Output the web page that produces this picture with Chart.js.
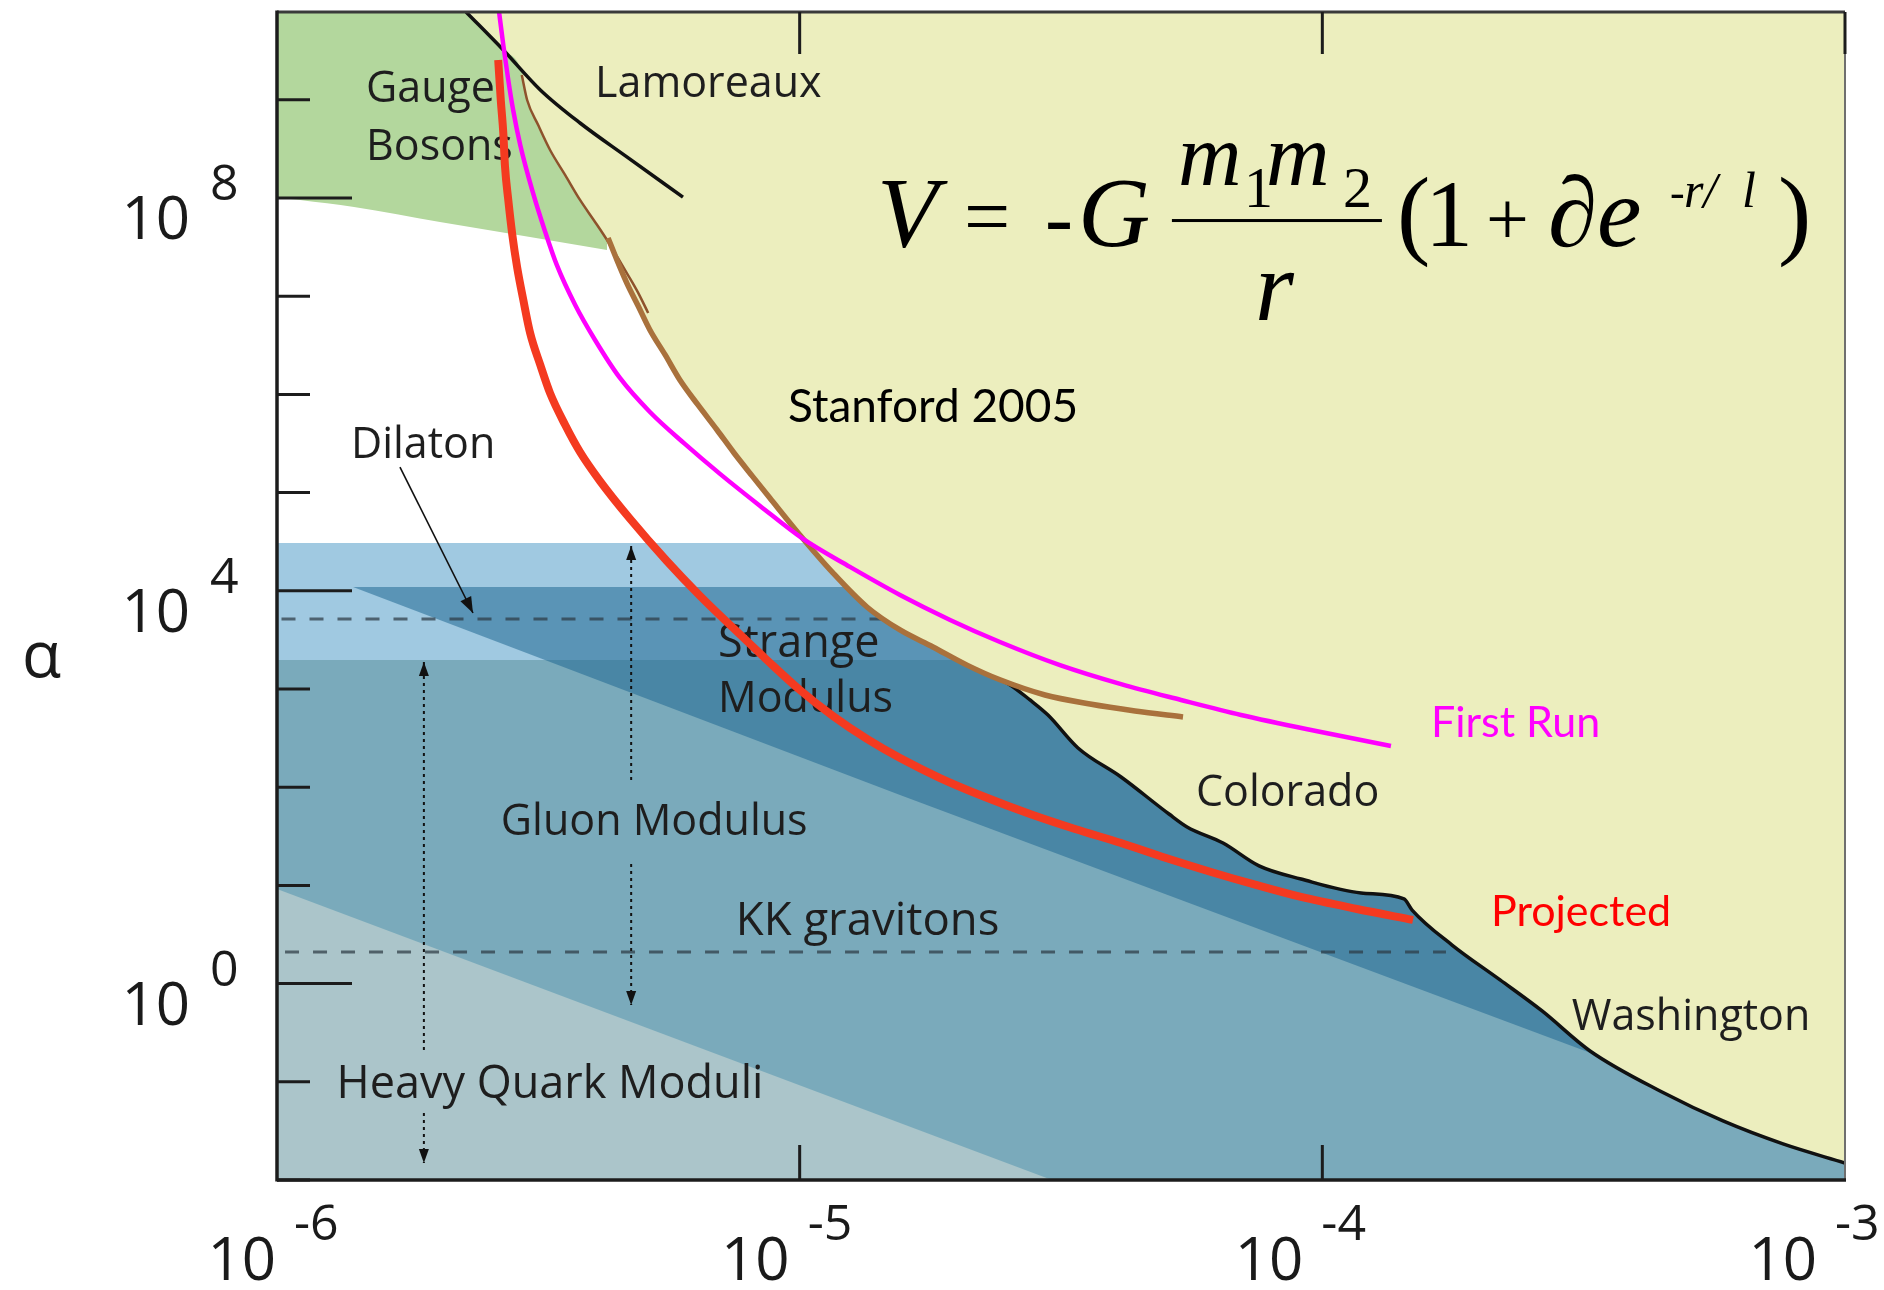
<!DOCTYPE html>
<html>
<head>
<meta charset="utf-8">
<title>Yukawa correction to gravity: α versus λ</title>
<script src="https://cdn.jsdelivr.net/npm/chart.js@4.4.1/dist/chart.umd.min.js"></script>
<style>
  html, body { margin: 0; padding: 0; background: #fff; }
  canvas { display: block; }
</style>
</head>
<body>
<canvas id="plot" width="1884" height="1290"></canvas>
<script>
// ---- axes -------------------------------------------------------------
const rangeTicks = [1e-6, 1e-5, 1e-4, 1e-3];           // λ (m)
const rangeTickExps = ['-6', '-5', '-4', '-3'];
const alphaTicks = [1e-2, 1e-1, 1e0, 1e1, 1e2, 1e3, 1e4, 1e5, 1e6, 1e7, 1e8, 1e9];
const alphaLabelTicks = [1e0, 1e4, 1e8];
const alphaLabelExps = ['0', '4', '8'];

// ---- experimental limits ----------------------------------------------
const lamoreauxR = [2.30e-6, 2.71e-6, 3.19e-6, 3.80e-6, 4.67e-6, 5.98e-6];
const lamoreauxA = [7.83e9, 3.21e9, 1.26e9, 5.80e8, 2.62e8, 1.02e8];

const stanfordThinR = [2.94e-6, 3.01e-6, 3.16e-6, 3.33e-6, 3.56e-6, 3.80e-6, 4.06e-6, 4.28e-6, 4.49e-6, 4.67e-6, 4.91e-6, 5.13e-6];
const stanfordThinA = [1.79e9, 9.95e8, 5.53e8, 3.08e8, 1.71e8, 9.55e7, 5.70e7, 3.73e7, 2.45e7, 1.72e7, 1.08e7, 6.75e6];

const stanfordR = [4.30e-6, 4.47e-6, 4.67e-6, 4.91e-6, 5.17e-6, 5.53e-6, 5.90e-6, 6.39e-6, 6.95e-6, 7.49e-6, 8.11e-6, 8.77e-6,
                   1.001e-5, 1.158e-5, 1.345e-5, 1.556e-5, 1.799e-5, 2.090e-5, 2.417e-5, 2.947e-5, 3.593e-5, 4.382e-5, 5.413e-5];
const stanfordA = [3.92e7, 2.34e7, 1.36e7, 7.94e6, 4.53e6, 2.52e6, 1.40e6, 7.80e5, 4.34e5, 2.53e5, 1.48e5, 8.81e4,
                   3.70e4, 1.52e4, 6.84e3, 3.99e3, 2.68e3, 1.75e3, 1.24e3, 869, 703, 597, 519];

// Colorado + Washington (Eöt-Wash) limit
const eotWashR = [2.417e-5, 2.515e-5, 2.759e-5, 2.986e-5, 3.408e-5, 4.120e-5, 5.089e-5, 5.510e-5, 6.457e-5, 7.567e-5, 9.104e-5,
                  1.186e-4, 1.433e-4, 1.485e-4, 1.771e-4, 2.188e-4, 2.633e-4, 3.252e-4, 4.466e-4, 5.843e-4, 7.610e-4, 1e-3];
const eotWashA = [1.24e3, 1.12e3, 773, 543, 251, 127, 53.3, 39.4, 27.0, 15.8, 11.6,
                  8.37, 7.28, 5.61, 2.47, 1.09, 0.526, 0.206, 0.0787, 0.0399, 0.0233, 0.0149];

// upper edge of the allowed region left of the Colorado data
const excludedEdgeR = [2.30e-6, 2.71e-6, 2.94e-6, 3.01e-6, 3.16e-6, 3.33e-6, 3.56e-6, 3.80e-6, 4.06e-6, 4.28e-6, 4.47e-6, 4.67e-6,
                       4.91e-6, 5.17e-6, 5.53e-6, 5.90e-6, 6.39e-6, 6.95e-6, 7.49e-6, 8.11e-6, 8.77e-6, 1.001e-5, 1.158e-5,
                       1.345e-5, 1.556e-5, 1.799e-5, 2.090e-5];
const excludedEdgeA = [7.83e9, 3.21e9, 1.92e9, 9.95e8, 5.53e8, 3.08e8, 1.71e8, 9.55e7, 5.70e7, 3.73e7, 2.34e7, 1.36e7,
                       7.94e6, 4.53e6, 2.52e6, 1.40e6, 7.80e5, 4.34e5, 2.53e5, 1.48e5, 8.81e4, 3.70e4, 1.52e4,
                       6.84e3, 3.99e3, 2.68e3, 1.75e3];

// ---- sensitivity curves -----------------------------------------------
const firstRunR = [2.66e-6, 2.71e-6, 2.77e-6, 2.83e-6, 2.92e-6, 3.09e-6, 3.26e-6, 3.43e-6, 3.72e-6, 4.06e-6, 4.53e-6, 5.17e-6, 6.03e-6,
                   7.04e-6, 8.40e-6, 1.015e-5, 1.248e-5, 1.556e-5, 1.940e-5, 2.417e-5, 3.148e-5, 4.120e-5, 5.365e-5, 6.989e-5, 9.725e-5, 1.353e-4];
const firstRunA = [7.83e9, 3.61e9, 1.59e9, 7.87e8, 3.47e8, 1.12e8, 4.51e7, 2.08e7, 8.13e6, 3.58e6, 1.47e6, 6.62e5, 3.13e5,
                   1.55e5, 7.31e4, 3.37e4, 1.75e4, 9.06e3, 5.05e3, 3.01e3, 1.75e3, 1.12e3, 773, 543, 373, 263];

const projectedR = [2.65e-6, 2.68e-6, 2.71e-6, 2.73e-6, 2.77e-6, 2.82e-6, 2.88e-6, 2.96e-6, 3.05e-6, 3.19e-6, 3.33e-6, 3.56e-6,
                    3.80e-6, 4.15e-6, 4.74e-6, 5.57e-6, 6.45e-6, 7.46e-6, 8.66e-6, 1.001e-5, 1.158e-5, 1.345e-5, 1.556e-5,
                    1.856e-5, 2.262e-5, 2.759e-5, 3.364e-5, 4.120e-5, 5.023e-5, 6.124e-5, 7.467e-5, 9.104e-5, 1.165e-4, 1.491e-4];
const projectedA = [2.54e9, 9.95e8, 4.59e8, 2.12e8, 9.55e7, 4.20e7, 1.98e7, 9.14e6, 4.22e6, 1.99e6, 1.03e6, 4.88e5,
                    2.59e5, 1.31e5, 5.38e4, 2.01e4, 8.85e3, 4.18e3, 1.97e3, 977, 531, 310, 198,
                    124, 79.4, 53.3, 37.5, 27.0, 19.0, 13.7, 10.1, 7.62, 5.75, 4.45];

// ---- theoretical predictions ------------------------------------------
const gaugeEdgeR = [1e-6, 1.107e-6, 1.404e-6, 2.050e-6, 3.048e-6, 4.279e-6];
const gaugeEdgeA = [1.02e8, 9.54e7, 8.09e7, 5.70e7, 4.01e7, 2.95e7];

const fullR = [1e-6, 1e-3];
const dilatonTopA = [3.07e4, 3.07e4];
const gluonTopA = [1.97e3, 1.97e3];

const strangeR = [1.398e-6, 1.556e-5, 3.339e-4, 1e-3];
const strangeTopA = [1.093e4, 1.093e4, 1.093e4, 1.093e4];
const strangeLowA = [1.093e4, 83.3, 0.1875, 0.0207];

const heavyQuarkR = [1e-6, 1.856e-5, 3.039e-5];
const heavyQuarkA = [9.19, 0.0268, 0.01];

const dilatonLineR = [1.02e-6, 1.488e-5];
const dilatonLineA = [5.16e3, 5.16e3];
const kkLineR = [1.036e-6, 1.724e-4];
const kkLineA = [2.10, 2.10];

// range markers (dotted, with a break for the label)
const gluonArrowR = [4.76e-6, 4.76e-6, 4.76e-6, 4.76e-6, 4.76e-6];
const gluonArrowA = [2.86e4, 116, null, 16.5, 0.605];
const heavyArrowR = [1.91e-6, 1.91e-6, 1.91e-6, 1.91e-6, 1.91e-6];
const heavyArrowA = [1.88e3, 0.206, null, 0.0481, 0.0149];
const dilatonPointerR = [1.719e-6, 2.371e-6];
const dilatonPointerA = [1.82e5, 5.94e3];

// ---- annotations -------------------------------------------------------
const sansFont = '"Open Sans", "Noto Sans", sans-serif';
const calibriFont = '"Lato", "Open Sans", sans-serif';
const notes = [
  { text: 'Gauge',              r: 1.48e-6,  a: 9.50e8 },
  { text: 'Bosons',             r: 1.48e-6,  a: 2.44e8 },
  { text: 'Lamoreaux',          r: 4.06e-6,  a: 1.07e9 },
  { text: 'Dilaton',            r: 1.385e-6, a: 2.25e5 },
  { text: 'Strange',            r: 6.98e-6,  a: 2.12e3, size: 45 },
  { text: 'Modulus',            r: 6.98e-6,  a: 583 },
  { text: 'Gluon Modulus',      r: 2.68e-6,  a: 32.6 },
  { text: 'KK gravitons',       r: 7.55e-6,  a: 3.13, size: 45.5 },
  { text: 'Heavy Quark Moduli', r: 1.30e-6,  a: 0.0684, size: 45 },
  { text: 'Colorado',           r: 5.73e-5,  a: 64.4 },
  { text: 'Washington',         r: 3.00e-4,  a: 0.337 },
  { text: 'Stanford 2005',      r: 9.50e-6,  a: 5.24e5, font: '46px ' + calibriFont, color: '#000' },
  { text: 'First Run',          r: 1.614e-4, a: 324,    font: '43px ' + calibriFont, color: '#ff00ff' },
  { text: 'Projected',          r: 2.102e-4, a: 3.86,   font: '43px ' + calibriFont, color: '#ff0000' }
];
const formulaAnchor = { r: 1.443e-5, a: 3.24e7 };

// ---- datasets -----------------------------------------------------------
const pts = (rs, as) => rs.map((r, i) => ({ x: r, y: as[i] }));
function series(label, rs, as, opts) {
  return Object.assign({
    label, data: pts(rs, as), pointRadius: 0, pointHoverRadius: 0,
    borderWidth: 0, borderColor: 'rgba(0,0,0,0)', fill: false, tension: 0
  }, opts);
}
const smooth = { cubicInterpolationMode: 'monotone' };

const datasets = [
  series('Dilaton band', fullR, dilatonTopA, { fill: 'start', backgroundColor: '#a0c9e1', order: 20 }),
  series('Gluon modulus', fullR, gluonTopA, { fill: 'start', backgroundColor: '#7aaabb', order: 19 }),
  series('Heavy quark moduli', heavyQuarkR, heavyQuarkA, { fill: 'start', backgroundColor: '#abc5ca', order: 18 }),
  series('Strange lower', strangeR, strangeLowA, { order: 17 }),
  series('Strange modulus', strangeR, strangeTopA, { fill: 3, backgroundColor: 'rgba(32,103,146,0.54)', order: 17 }),
  series('Gauge bosons', gaugeEdgeR, gaugeEdgeA, Object.assign({ fill: 'end', backgroundColor: '#b3d79d', order: 16 }, smooth)),
  series('Excluded', excludedEdgeR.concat(eotWashR), excludedEdgeA.concat(eotWashA),
         Object.assign({ fill: 'end', backgroundColor: '#eceebe', order: 15 }, smooth)),
  series('Dilaton line', dilatonLineR, dilatonLineA, { borderWidth: 3, borderColor: 'rgba(45,58,68,0.72)', borderDash: [14, 14], order: 14 }),
  series('KK line', kkLineR, kkLineA, { borderWidth: 3, borderColor: 'rgba(45,58,68,0.72)', borderDash: [14, 14], order: 14 }),
  series('Gluon range', gluonArrowR, gluonArrowA, { borderWidth: 2, borderColor: '#111', borderDash: [3, 4], order: 13 }),
  series('Heavy range', heavyArrowR, heavyArrowA, { borderWidth: 2, borderColor: '#111', borderDash: [3, 4], order: 13 }),
  series('Dilaton pointer', dilatonPointerR, dilatonPointerA, { borderWidth: 1.6, borderColor: '#111', order: 13 }),
  series('Lamoreaux', lamoreauxR, lamoreauxA, Object.assign({ borderWidth: 3.5, borderColor: '#111', order: 12 }, smooth)),
  series('Colorado/Washington', eotWashR, eotWashA, Object.assign({ borderWidth: 3.5, borderColor: '#111', order: 12 }, smooth)),
  series('Stanford thin', stanfordThinR, stanfordThinA, Object.assign({ borderWidth: 2.5, borderColor: '#8e522c', order: 11 }, smooth)),
  series('Stanford 2005', stanfordR, stanfordA, Object.assign({ borderWidth: 5.5, borderColor: '#a9713c', order: 10 }, smooth)),
  series('First Run', firstRunR, firstRunA, Object.assign({ borderWidth: 4.5, borderColor: '#ff00ff', order: 9 }, smooth)),
  series('Projected', projectedR, projectedA, Object.assign({ borderWidth: 8, borderColor: '#f43a20', order: 8 }, smooth))
];

// ---- drawing helpers ----------------------------------------------------
function txt(ctx, s, px, py, font, color, align) {
  ctx.font = font; ctx.fillStyle = color || '#1e1e1e';
  ctx.textAlign = align || 'left'; ctx.textBaseline = 'alphabetic';
  ctx.fillText(s, px, py);
}
function seg(ctx, x0, y0, x1, y1) { ctx.beginPath(); ctx.moveTo(x0, y0); ctx.lineTo(x1, y1); ctx.stroke(); }
function arrowHead(ctx, x0, y0, x1, y1, len, half) {
  const ang = Math.atan2(y1 - y0, x1 - x0);
  ctx.save(); ctx.translate(x1, y1); ctx.rotate(ang);
  ctx.beginPath(); ctx.moveTo(0, 0); ctx.lineTo(-len, -half); ctx.lineTo(-len, half); ctx.closePath(); ctx.fill();
  ctx.restore();
}

const decorations = {
  id: 'decorations',
  beforeDatasetDraw(chart, args) {
    if (chart.data.datasets[args.index].label !== 'Lamoreaux') return;
    const { ctx, scales: { x, y } } = chart;
    ctx.save();
    notes.forEach(n => txt(ctx, n.text, x.getPixelForValue(n.r), y.getPixelForValue(n.a),
                           n.font || (n.size || 43) + 'px ' + sansFont, n.color || '#1e1e1e'));
    ctx.restore();
  },
  afterDatasetsDraw(chart) {
    const { ctx, chartArea: ca, scales: { x, y } } = chart;
    ctx.save();

    // arrowheads on the range markers
    ctx.fillStyle = '#111';
    const px = v => x.getPixelForValue(v), py = v => y.getPixelForValue(v);
    arrowHead(ctx, px(gluonArrowR[1]), py(gluonArrowA[1]), px(gluonArrowR[0]), py(gluonArrowA[0]), 14, 5);
    arrowHead(ctx, px(gluonArrowR[3]), py(gluonArrowA[3]), px(gluonArrowR[4]), py(gluonArrowA[4]), 14, 5);
    arrowHead(ctx, px(heavyArrowR[1]), py(heavyArrowA[1]), px(heavyArrowR[0]), py(heavyArrowA[0]), 14, 5);
    arrowHead(ctx, px(heavyArrowR[3]), py(heavyArrowA[3]), px(heavyArrowR[4]), py(heavyArrowA[4]), 14, 5);
    arrowHead(ctx, px(dilatonPointerR[0]), py(dilatonPointerA[0]), px(dilatonPointerR[1]), py(dilatonPointerA[1]), 16, 6);

    // frame
    ctx.lineCap = 'butt';
    ctx.strokeStyle = '#3a3a3a'; ctx.lineWidth = 3; seg(ctx, ca.left, ca.top, ca.right, ca.top);
    ctx.strokeStyle = '#6f6f6f'; ctx.lineWidth = 2; seg(ctx, ca.right, ca.top, ca.right, ca.bottom);
    ctx.strokeStyle = '#1c1c1c'; ctx.lineWidth = 3.5;
    seg(ctx, ca.left, ca.top - 1.5, ca.left, ca.bottom + 1.5);
    seg(ctx, ca.left, ca.bottom, ca.right + 1, ca.bottom);

    // inward ticks
    ctx.lineWidth = 3;
    alphaTicks.forEach(v => {
      const yy = py(v);
      seg(ctx, ca.left, yy, ca.left + (alphaLabelTicks.includes(v) ? 75 : 33), yy);
    });
    rangeTicks.slice(1).forEach(v => seg(ctx, px(v), ca.top, px(v), ca.top + 42));
    rangeTicks.slice(1, 3).forEach(v => seg(ctx, px(v), ca.bottom, px(v), ca.bottom - 35));

    // tick labels
    const big = '60px ' + sansFont, sup = '50px ' + sansFont;
    alphaLabelTicks.forEach((v, i) => {
      const yy = py(v);
      txt(ctx, '10', ca.left - 87, yy + 41, big, '#1a1a1a', 'right');
      txt(ctx, alphaLabelExps[i], ca.left - 67, yy + 2, sup, '#1a1a1a', 'left');
    });
    rangeTicks.forEach((v, i) => {
      const xx = px(v) - 9 * i;
      txt(ctx, '10', xx - 1, ca.bottom + 100, big, '#1a1a1a', 'right');
      txt(ctx, rangeTickExps[i], xx + 17, ca.bottom + 60, sup, '#1a1a1a', 'left');
    });
    txt(ctx, 'α', 22, py(1e4) + 86, '64px ' + sansFont, '#1a1a1a', 'left');

    // V = -G m1 m2 / r (1 + α e^{-r/λ})
    const fx = px(formulaAnchor.r), fy = py(formulaAnchor.a);
    const serif = '"Liberation Serif", "Times New Roman", serif';
    const it = s => 'italic ' + s + 'px ' + serif, rm = s => s + 'px ' + serif;
    const parts = [
      ['V', -6, 0, it(100)], ['=', 81, -2, rm(82)], ['-', 162, 0, rm(84)], ['G', 195, 0, it(100)],
      ['m', 295, -61, it(88)], ['1', 361, -39, rm(58)], ['m', 383, -61, it(88)], ['2', 460, -39, rm(58)],
      ['r', 372, 74, it(100)],
      ['(', 514, 0, rm(100)], ['1', 542, 0, rm(96)], ['+', 603, -2, rm(76)],
      ['∂', 665, 0, it(100)], ['e', 714, 0, it(100)],
      ['-', 787, -39, rm(44)], ['r/', 801, -39, it(50)], ['l', 859, -39, it(50)],
      [')', 895, 0, rm(100)]
    ];
    parts.forEach(p => txt(ctx, p[0], fx + p[1], fy + p[2], p[3], '#000', 'left'));
    ctx.fillStyle = '#000';
    ctx.fillRect(fx + 289, fy - 27, 210, 3);

    ctx.restore();
  }
};

new Chart(document.getElementById('plot'), {
  type: 'line',
  data: { datasets },
  options: {
    responsive: false,
    animation: false,
    devicePixelRatio: 1,
    layout: { padding: { left: 277, right: 39, top: 12, bottom: 110 } },
    scales: {
      x: { type: 'logarithmic', min: 1e-6, max: 1e-3, bounds: 'data', display: false },
      y: { type: 'logarithmic', min: 0.01, max: 7.83e9, bounds: 'data', display: false }
    },
    plugins: { legend: { display: false }, tooltip: { enabled: false } },
    elements: { point: { radius: 0 } }
  },
  plugins: [decorations]
});
</script>
</body>
</html>
